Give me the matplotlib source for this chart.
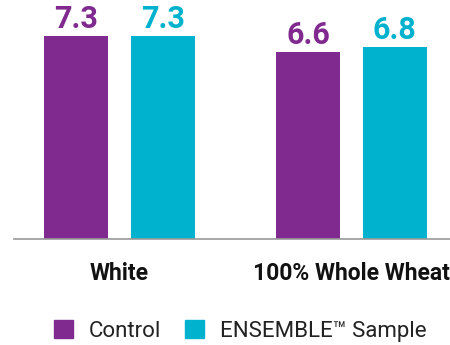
import matplotlib.pyplot as plt
from matplotlib.patches import Patch
from matplotlib.transforms import blended_transform_factory
import numpy as np

# Data
categories = ["White", "100% Whole Wheat"]
series_names = ["Control", "ENSEMBLE\u2122 Sample"]
control = [7.3, 6.6]
ensemble = [7.3, 6.8]

PURPLE = "#80298F"
CYAN = "#00B2CE"
YMIN = -1.58  # axis baseline is not at zero in the original

plt.rcParams['font.family'] = ['Roboto', 'DejaVu Sans']

fig = plt.figure(figsize=(4.5, 3.45), dpi=100)
ax = fig.add_axes([14 / 450, 1 - 239 / 345, 1 - 14 / 450, 239 / 345])

x = np.arange(len(categories))
width = 0.276
offset = 0.1875

bars1 = ax.bar(x - offset, np.array(control) - YMIN, width, bottom=YMIN,
               color=PURPLE, label=series_names[0])
bars2 = ax.bar(x + offset, np.array(ensemble) - YMIN, width, bottom=YMIN,
               color=CYAN, label=series_names[1])

# value labels
for bars, vals, col in [(bars1, control, PURPLE), (bars2, ensemble, CYAN)]:
    for b, v in zip(bars, vals):
        ax.annotate(f"{v:.1f}", (b.get_x() + b.get_width() / 2, v),
                    xytext=(0, 5.8), textcoords='offset points',
                    ha='center', va='baseline', fontsize=22,
                    fontweight='bold', color=col)

ax.set_ylim(YMIN, 8.87)
ax.set_xlim(-0.455, 1.425)

for s in ['top', 'right', 'left']:
    ax.spines[s].set_visible(False)
ax.spines['bottom'].set_color('#9a9a9a')
ax.spines['bottom'].set_linewidth(1.2)
ax.set_yticks([])
ax.set_xticks([])

# category labels
tr = blended_transform_factory(ax.transData, fig.transFigure)
for xi, cat in zip(x, categories):
    ax.text(xi, 1 - 280 / 345, cat, transform=tr, ha='center', va='baseline',
            fontsize=16.5, fontweight='bold', color='#111111')

handles = [Patch(color=PURPLE), Patch(color=CYAN)]
fig.legend(handles, series_names, loc='center', bbox_to_anchor=(240 / 450, 1 - 331 / 345),
           ncol=2, frameon=False, fontsize=16, handlelength=0.85, handleheight=0.85,
           handletextpad=0.7, columnspacing=1.1, labelcolor='#222222')

plt.savefig("out.png", dpi=100)
